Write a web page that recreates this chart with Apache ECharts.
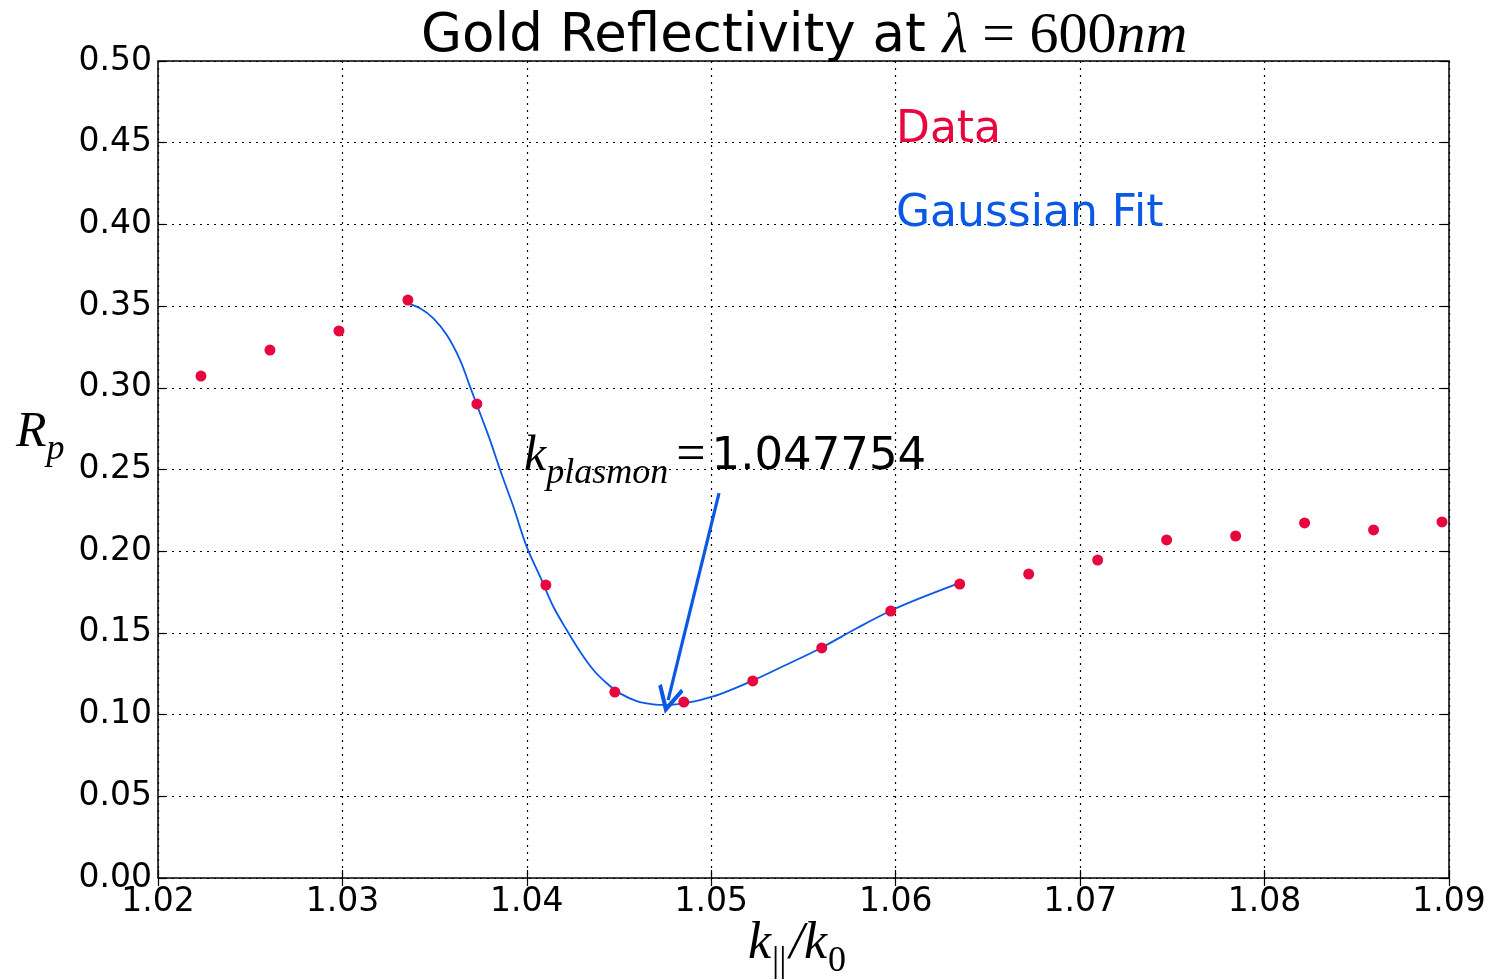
<!DOCTYPE html>
<html>
<head>
<meta charset="utf-8">
<script src="https://cdn.jsdelivr.net/npm/echarts@6/dist/echarts.min.js"></script>
<style>
  html, body { margin: 0; padding: 0; background: #fff; }
  #main { width: 1499px; height: 980px; }
</style>
</head>
<body>
<div id="main"></div>
<script>
// measured data (k_par / k0 , Rp)
var dataK = [1.02233, 1.02607, 1.02981, 1.03355, 1.03729, 1.04103, 1.04477, 1.04851, 1.05225, 1.05599,
             1.05973, 1.06347, 1.06721, 1.07095, 1.07469, 1.07843, 1.08217, 1.08591, 1.08962];
var dataR = [0.3072, 0.3231, 0.3348, 0.3537, 0.2901, 0.1793, 0.1138, 0.1077, 0.1206, 0.1408,
             0.1634, 0.1799, 0.1860, 0.1946, 0.2069, 0.2093, 0.2173, 0.2130, 0.2179];

// gaussian fit curve
var fitK = [1.03352, 1.03421, 1.03493, 1.03566, 1.03638, 1.03692, 1.03746, 1.03800, 1.03855, 1.03927,
            1.03999, 1.04072, 1.04144, 1.04216, 1.04289, 1.04361, 1.04433, 1.04505, 1.04596, 1.04686,
            1.04759, 1.04849, 1.04939, 1.05048, 1.05221, 1.05427, 1.05595, 1.05791, 1.0597, 1.06149,
            1.06344];
var fitR = [0.3517, 0.3487, 0.3425, 0.3323, 0.3170, 0.3007, 0.2844, 0.2681, 0.2497, 0.2272,
            0.2028, 0.1844, 0.1660, 0.1518, 0.1385, 0.1273, 0.1192, 0.1130, 0.1083, 0.1063,
            0.1059, 0.1069, 0.1089, 0.1125, 0.1206, 0.1316, 0.1408, 0.1530, 0.1634, 0.1720,
            0.1805];

var xTicks = [1.02, 1.09, 0.01];   // min, max, step
var yTicks = [0, 0.5, 0.05];

// arrow from label to the plasmon dip
var arrowFrom = [1.05042, 0.2356];
var arrowTo = [1.04766, 0.1089];

var red = '#e8063f', blue = '#0a58e6';
var sans = 'DejaVu Sans', serif = 'Liberation Serif';

var scatterData = [], fitData = [];
for (var i = 0; i < dataK.length; i++) scatterData.push([dataK[i], dataR[i]]);
for (var j = 0; j < fitK.length; j++) fitData.push([fitK[j], fitR[j]]);

var gridLine = { show: true, lineStyle: { color: '#000', type: [2, 5], width: 1.2 } };
var tick = { show: true, inside: true, length: 8, lineStyle: { color: '#000', width: 1.2 } };

var myChart = echarts.init(document.getElementById('main'));
var option = {
  animation: false,
  backgroundColor: '#fff',
  title: {
    text: '{a|Gold Reflectivity at }{m|λ}{u| = 600}{m|nm}',
    left: 416,
    top: 3,
    textStyle: {
      fontWeight: 'normal',
      rich: {
        a: { fontFamily: sans, fontWeight: 'normal', fontSize: 53, color: '#000' },
        m: { fontFamily: serif, fontWeight: 'normal', fontStyle: 'italic', fontSize: 58, color: '#000' },
        u: { fontFamily: serif, fontWeight: 'normal', fontSize: 58, color: '#000' }
      }
    }
  },
  legend: {
    orient: 'vertical',
    left: 886,
    top: 104,
    icon: 'none',
    itemWidth: 0,
    itemGap: 40,
    textStyle: { fontFamily: sans, fontSize: 44 },
    data: [
      { name: 'Data', textStyle: { color: red } },
      { name: 'Gaussian Fit', textStyle: { color: blue } }
    ]
  },
  grid: {
    left: 158, right: 50, top: 61, bottom: 102,
    show: true, borderColor: '#000', borderWidth: 1.5
  },
  xAxis: [{
    type: 'value', min: xTicks[0], max: xTicks[1], interval: xTicks[2],
    axisLine: { show: false },
    axisTick: tick,
    axisLabel: { fontFamily: sans, fontSize: 33, color: '#000', margin: 8,
      formatter: function (v) { return v.toFixed(2); } },
    splitLine: gridLine
  }, {
    type: 'value', position: 'top', min: xTicks[0], max: xTicks[1], interval: xTicks[2],
    axisLine: { show: false }, axisTick: tick,
    axisLabel: { show: false }, splitLine: { show: false }
  }],
  yAxis: [{
    type: 'value', min: yTicks[0], max: yTicks[1], interval: yTicks[2],
    axisLine: { show: false },
    axisTick: tick,
    axisLabel: { fontFamily: sans, fontSize: 33, color: '#000', margin: 6,
      formatter: function (v) { return v.toFixed(2); } },
    splitLine: gridLine
  }, {
    type: 'value', position: 'right', min: yTicks[0], max: yTicks[1], interval: yTicks[2],
    axisLine: { show: false }, axisTick: tick,
    axisLabel: { show: false }, splitLine: { show: false }
  }],
  series: [{
    name: 'Data',
    type: 'scatter',
    symbolSize: 11,
    itemStyle: { color: red, opacity: 1 },
    data: scatterData,
    z: 3
  }, {
    name: 'Gaussian Fit',
    type: 'line',
    smooth: 0.35,
    showSymbol: false,
    lineStyle: { color: blue, width: 1.8 },
    itemStyle: { color: blue },
    data: fitData,
    z: 2,
    markLine: {
      silent: true,
      symbol: ['none', 'path://M5,0 L10,10 L8.8,11 L5,3.6 L1.2,11 L0,10 Z'],
      symbolSize: [26, 28],
      label: { show: false },
      lineStyle: { color: blue, width: 3.2, type: 'solid' },
      data: [[{ coord: arrowFrom }, { coord: arrowTo }]]
    }
  }],
  graphic: [{
    type: 'text', left: 524, top: 430,
    style: {
      text: '{k|k}{s|plasmon}{e|=}{n|1.047754}',
      rich: {
        k: { fontFamily: serif, fontStyle: 'italic', fontSize: 50, fill: '#000', verticalAlign: 'bottom', padding: [0, 0, 10, 0] },
        s: { fontFamily: serif, fontStyle: 'italic', fontSize: 36, fill: '#000', verticalAlign: 'bottom', padding: [0, 8, 0, 0] },
        e: { fontFamily: serif, fontSize: 52, fill: '#000', verticalAlign: 'bottom', padding: [0, 6, 10, 0] },
        n: { fontFamily: sans, fontSize: 45, fill: '#000', verticalAlign: 'bottom', padding: [0, 0, 12, 0] }
      }
    }
  }, {
    type: 'text', left: 16, top: 408,
    style: {
      text: '{r|R}{p|p}',
      rich: {
        r: { fontFamily: serif, fontStyle: 'italic', fontSize: 50, fill: '#000', verticalAlign: 'bottom', padding: [0, 0, 10, 0] },
        p: { fontFamily: serif, fontStyle: 'italic', fontSize: 36, fill: '#000', verticalAlign: 'bottom' }
      }
    }
  }, {
    type: 'text', left: 748, top: 918,
    style: {
      text: '{k|k}{s|||}{k|/k}{s|0}',
      rich: {
        k: { fontFamily: serif, fontStyle: 'italic', fontSize: 52, fill: '#000', verticalAlign: 'bottom', padding: [0, 0, 10, 0] },
        s: { fontFamily: serif, fontSize: 36, fill: '#000', verticalAlign: 'bottom', padding: [0, 3, 0, 1] }
      }
    }
  }]
};
myChart.setOption(option);
</script>
</body>
</html>
